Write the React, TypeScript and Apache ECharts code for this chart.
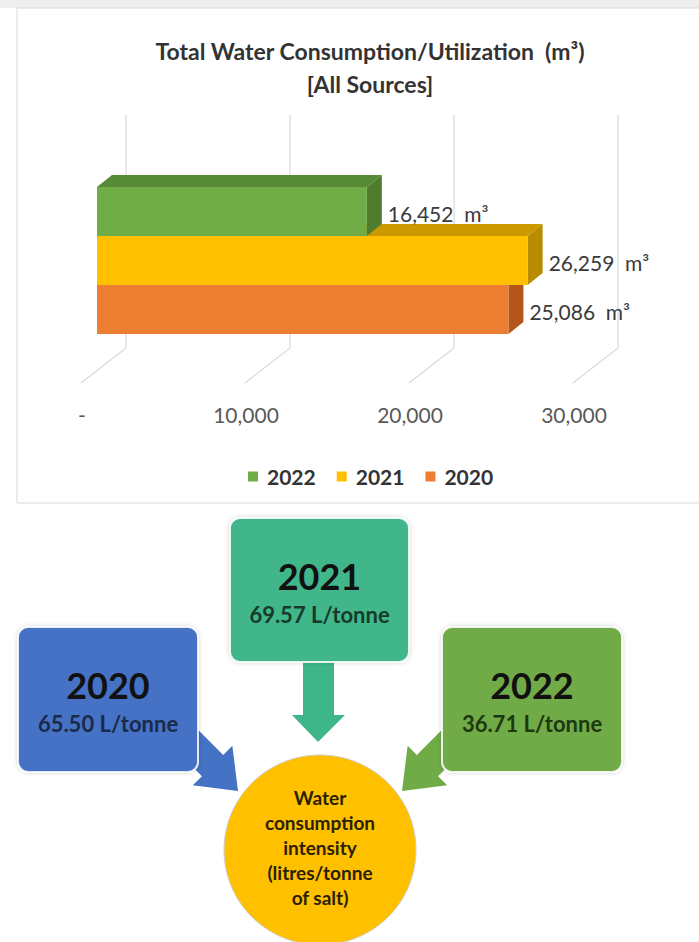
import React, { useEffect, useRef } from "react";
import * as echarts from "echarts";

// ---- data ----
const years = ["2020", "2021", "2022"];
const consumptionM3 = [25086, 26259, 16452];
const legendOrder = ["2022", "2021", "2020"];
const xTicks = [0, 10000, 20000, 30000];
const xTickLabels = ["-", "10,000", "20,000", "30,000"];
const intensityYears = ["2020", "2021", "2022"];
const intensityLPerTonne = [65.5, 69.57, 36.71];
const titleLines = ["Total Water Consumption/Utilization  (m\u00B3)", "[All Sources]"];
const circleLines = ["Water", "consumption", "intensity", "(litres/tonne", "of salt)"];

// ---- styles ----
const FONT = "Lato, 'Open Sans', sans-serif";
const frontColors = ["#ED7D31", "#FFC000", "#70AD47"];
const topColors = ["#C8641F", "#CC9A00", "#578A37"];
const sideColors = ["#B4561A", "#B98B00", "#4E7D30"];
const boxColors = ["#4472C4", "#3FB68A", "#6FAB46"];
const boxValueColors = ["#1B2A4A", "#163B2A", "#1E3811"];

export default function App() {
  const ref = useRef<HTMLDivElement>(null);

  useEffect(() => {
    if (!ref.current) return;
    const chart = echarts.init(ref.current, undefined, { renderer: "svg" });
    const DX = 15;
    const DY = -12;

    const barSeries = years.map((yr, i) => ({
      type: "custom",
      name: yr,
      xAxisIndex: 1,
      yAxisIndex: 1,
      itemStyle: { color: frontColors[i] },
      data: [[consumptionM3[i], i]],
      renderItem: (params: any, api: any) => {
        const v = api.value(0);
        const c = api.value(1);
        const p0 = api.coord([0, c]);
        const p1 = api.coord([v, c]);
        const band = api.size([0, 1])[1];
        const x0 = p0[0];
        const x1 = p1[0];
        const yT = p1[1] - band / 2;
        const yB = p1[1] + band / 2;
        return {
          type: "group",
          children: [
            {
              type: "polygon",
              shape: { points: [[x0, yT], [x0 + DX, yT + DY], [x1 + DX, yT + DY], [x1, yT]] },
              style: { fill: topColors[i] },
            },
            {
              type: "polygon",
              shape: { points: [[x1, yT], [x1 + DX, yT + DY], [x1 + DX, yB + DY], [x1, yB]] },
              style: { fill: sideColors[i] },
            },
            {
              type: "rect",
              shape: { x: x0, y: yT, width: x1 - x0, height: yB - yT },
              style: { fill: frontColors[i] },
            },
            {
              type: "text",
              z2: 100,
              style: {
                text: v.toLocaleString("en-US") + "  m\u00B3",
                x: x1 + 21,
                y: (yT + yB) / 2 + 2,
                align: "left",
                verticalAlign: "middle",
                fill: "#3a3a3a",
                font: `21px ${FONT}`,
              },
            },
          ],
        };
      },
    }));

    const gridSeries = {
      type: "custom",
      name: "grid",
      xAxisIndex: 0,
      yAxisIndex: 0,
      silent: true,
      z: 1,
      data: xTicks.map((t) => [t, 0]),
      renderItem: (params: any, api: any) => {
        const cs = params.coordSys;
        const px = api.coord([api.value(0), 0])[0];
        const top = cs.y;
        const bottom = cs.y + cs.height;
        return {
          type: "polyline",
          shape: { points: [[px, top], [px, bottom], [px - 45, bottom + 35]] },
          style: { stroke: "#d9d9d9", lineWidth: 1.2, fill: "none" },
        };
      },
    };

    const boxes = [
      { x: 18, y: 627, w: 180, h: 145 },
      { x: 230, y: 518, w: 179, h: 144 },
      { x: 442, y: 627, w: 180, h: 145 },
    ];

    const arrowPts = [[0, 0], [-36, -28], [-36, -15], [-80, -15], [-80, 15], [-36, 15], [-36, 28]];

    const graphics: any[] = [
      { type: "rect", z: -10, shape: { x: 0, y: 0, width: 699, height: 8 }, style: { fill: "#eeeeee" } },
      {
        type: "rect",
        z: -10,
        shape: { x: 17, y: 8, width: 700, height: 495 },
        style: { fill: "#ffffff", stroke: "#d9d9d9", lineWidth: 1 },
      },
      // arrows
      {
        type: "polygon",
        z: 1,
        shape: { points: [[303, 655], [334, 655], [334, 715], [345, 715], [318, 742], [292, 715], [303, 715]] },
        style: { fill: boxColors[1] },
      },
      {
        type: "polygon",
        z: 1,
        x: 238,
        y: 791,
        rotation: -Math.PI / 4,
        shape: { points: arrowPts },
        style: { fill: boxColors[0] },
      },
      {
        type: "polygon",
        z: 1,
        x: 402,
        y: 791,
        rotation: (-3 * Math.PI) / 4,
        shape: { points: arrowPts },
        style: { fill: boxColors[2] },
      },
      // circle
      {
        type: "ellipse",
        z: 1,
        shape: { cx: 320, cy: 850, rx: 96, ry: 95 },
        style: { fill: "#FFC000", stroke: "#cfcfcf", lineWidth: 1 },
      },
      {
        type: "text",
        z: 3,
        style: {
          text: circleLines.join("\n"),
          x: 320,
          y: 847,
          align: "center",
          verticalAlign: "middle",
          lineHeight: 25,
          fill: "#2A2100",
          font: `bold 19px ${FONT}`,
        },
      },
    ];

    intensityYears.forEach((yr, i) => {
      const b = boxes[i];
      graphics.push({
        type: "rect",
        z: 2,
        shape: { x: b.x, y: b.y, width: b.w, height: b.h, r: 10 },
        style: {
          fill: boxColors[i],
          stroke: "rgba(255,255,255,0.85)",
          lineWidth: 2,
          shadowBlur: 4,
          shadowColor: "rgba(0,0,0,0.18)",
        },
      });
      graphics.push({
        type: "text",
        z: 3,
        style: {
          text: yr,
          x: b.x + b.w / 2,
          y: b.y + 58,
          align: "center",
          verticalAlign: "middle",
          fill: "#111111",
          font: `bold 36px ${FONT}`,
        },
      });
      graphics.push({
        type: "text",
        z: 3,
        style: {
          text: intensityLPerTonne[i].toFixed(2) + " L/tonne",
          x: b.x + b.w / 2,
          y: b.y + 96,
          align: "center",
          verticalAlign: "middle",
          fill: boxValueColors[i],
          font: `bold 22px ${FONT}`,
        },
      });
    });

    const hiddenCat = (gridIndex: number) => ({
      type: "category",
      gridIndex,
      data: years,
      show: false,
    });

    chart.setOption({
      animation: false,
      backgroundColor: "#ffffff",
      title: {
        text: titleLines.join("\n"),
        left: 365,
        top: 29,
        textAlign: "center",
        textStyle: {
          fontFamily: FONT,
          fontSize: 23,
          fontWeight: "bold",
          color: "#333333",
          lineHeight: 33,
        },
      },
      legend: {
        data: legendOrder,
        top: 461,
        left: 243,
        icon: "rect",
        itemWidth: 10,
        itemHeight: 10,
        itemGap: 21,
        textStyle: {
          fontFamily: FONT,
          fontSize: 21,
          fontWeight: "bold",
          color: "#333333",
          padding: [0, 0, 0, 4],
        },
      },
      grid: [
        { left: 126, top: 115, width: 492, height: 233 },
        { left: 97, top: 187, width: 492, height: 147 },
        { left: 82, top: 380, width: 492, height: 3 },
      ],
      xAxis: [
        { type: "value", gridIndex: 0, min: 0, max: 30000, interval: 10000, show: false },
        { type: "value", gridIndex: 1, min: 0, max: 30000, interval: 10000, show: false },
        {
          type: "value",
          gridIndex: 2,
          min: 0,
          max: 30000,
          interval: 10000,
          axisLine: { show: false },
          axisTick: { show: false },
          splitLine: { show: false },
          axisLabel: {
            margin: 21,
            fontFamily: FONT,
            fontSize: 21,
            color: "#595959",
            formatter: (val: number) => {
              const k = xTicks.indexOf(val);
              return k >= 0 ? xTickLabels[k] : "";
            },
          },
        },
      ],
      yAxis: [hiddenCat(0), hiddenCat(1), hiddenCat(2)],
      series: [gridSeries, ...barSeries],
      graphic: graphics,
    });

    return () => chart.dispose();
  }, []);

  return (
    <div
      ref={ref}
      style={{ position: "fixed", left: 0, top: 0, width: 699, height: 942 }}
    />
  );
}
